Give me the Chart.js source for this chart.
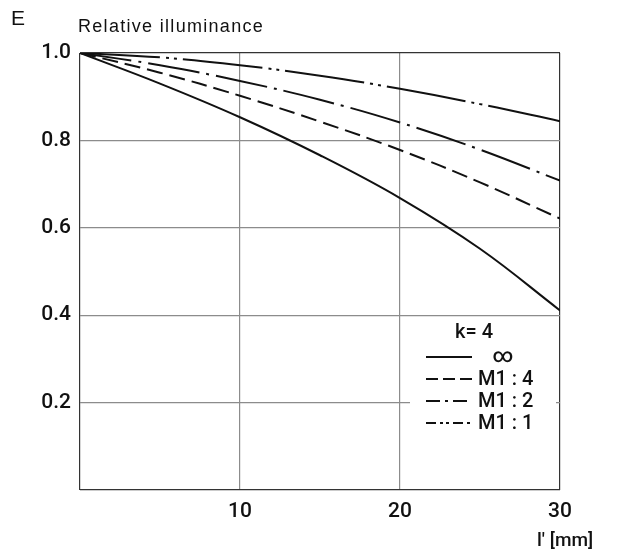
<!DOCTYPE html>
<html>
<head>
<meta charset="utf-8">
<script src="https://cdn.jsdelivr.net/npm/chart.js@4.4.0/dist/chart.umd.min.js"></script>
<style>
  html, body { margin: 0; padding: 0; background: #fff; }
  #wrap { width: 620px; height: 554px; }
</style>
</head>
<body>
<div id="wrap"><canvas id="chart" width="620" height="554"></canvas></div>
<script>
// image height l' in mm, and relative illuminance E for k = 4 at each magnification
const imageHeight = [0, 5, 10, 15, 20, 25, 30];
const atInfinity  = [1.0, 0.930, 0.853, 0.766, 0.668, 0.552, 0.411];
const atM1to4     = [1.0, 0.955, 0.902, 0.843, 0.778, 0.704, 0.621];
const atM1to2     = [1.0, 0.972, 0.936, 0.893, 0.841, 0.779, 0.708];
const atM1to1     = [1.0, 0.990, 0.972, 0.948, 0.918, 0.883, 0.844];
const seriesNames = ["\u221e", "M1 : 4", "M1 : 2", "M1 : 1"];
const yTicks = [0.2, 0.4, 0.6, 0.8, 1.0];
const xTicks = [10, 20, 30];

const INK = "#111";
const FONT = "Roboto";

function pts(ys) {
  return imageHeight.map((x, i) => ({ x: x, y: ys[i] }));
}

function series(label, ys, dash, keyDash) {
  return {
    label: label,
    data: pts(ys),
    borderColor: INK,
    borderWidth: 2,
    borderDash: dash,
    keyDash: keyDash,
    pointRadius: 0,
    tension: 0.4,
    fill: false,
  };
}

// headings, axis name and the k = 4 key box inside the plot
const decorations = {
  id: "decorations",
  afterDraw(chart) {
    const ctx = chart.ctx;
    ctx.save();
    ctx.fillStyle = INK;
    ctx.textBaseline = "middle";
    ctx.textAlign = "left";
    ctx.font = "21px 'Liberation Sans'";
    ctx.fillText("E", 11, 19);
    ctx.font = "18px 'Liberation Sans'";
    ctx.letterSpacing = "1.3px";
    ctx.fillText("Relative illuminance", 78, 27);
    ctx.letterSpacing = "0px";
    ctx.font = "500 19px " + FONT;
    ctx.fillText("l\u2032 [mm]", 537, 541);
    ctx.restore();
  },
  afterDatasetsDraw(chart) {
    const ctx = chart.ctx;
    ctx.save();
    ctx.fillStyle = "#fff";
    ctx.fillRect(410, 321, 146, 124);
    ctx.fillStyle = INK;
    ctx.font = "500 20px " + FONT;
    ctx.textBaseline = "middle";
    ctx.textAlign = "center";
    ctx.fillText("k= 4", 474, 333);
    chart.data.datasets.forEach((ds, i) => {
      const y = 357 + i * 22;
      ctx.strokeStyle = INK;
      ctx.lineWidth = 2;
      ctx.setLineDash(ds.keyDash);
      ctx.beginPath();
      ctx.moveTo(426, y);
      ctx.lineTo(472, y);
      ctx.stroke();
      ctx.setLineDash([]);
      if (i === 0) {
        ctx.textAlign = "center";
        ctx.fillText(ds.label, 503, y);
      } else {
        ctx.textAlign = "left";
        ctx.fillText(ds.label, 478, y + 1);
      }
    });
    ctx.restore();
  },
};

const gridColor = (edge) => (ctx) => {
  const v = ctx.tick ? ctx.tick.value : null;
  return v === edge[0] || v === edge[1] ? "#333" : "#8c8c8c";
};

new Chart(document.getElementById("chart"), {
  type: "line",
  data: {
    datasets: [
      series(seriesNames[0], atInfinity, [], []),
      series(seriesNames[1], atM1to4, [16, 7], [12, 5]),
      series(seriesNames[2], atM1to2, [52, 7, 3, 7], [14, 5, 3, 5]),
      series(seriesNames[3], atM1to1, [80, 6, 3, 5, 3, 6], [10, 4, 3, 3, 3, 4]),
    ],
  },
  options: {
    responsive: false,
    animation: false,
    layout: { padding: { left: 0, right: 60, top: 53, bottom: 0 } },
    plugins: { legend: { display: false }, tooltip: { enabled: false } },
    scales: {
      x: {
        type: "linear",
        min: 0,
        max: 30,
        afterFit(s) { s.height = 64; },
        afterBuildTicks(s) { s.ticks = [0].concat(xTicks).map(v => ({ value: v })); },
        border: { display: false },
        grid: { color: gridColor([0, 30]), lineWidth: 1.2, drawTicks: false },
        ticks: {
          padding: 9,
          color: INK,
          font: { family: FONT, size: 21, weight: "500" },
          callback: (v) => (v === 0 ? "" : String(v)),
        },
      },
      y: {
        min: 0,
        max: 1.0,
        afterFit(s) { s.width = 80; },
        afterBuildTicks(s) { s.ticks = [0].concat(yTicks).map(v => ({ value: v })); },
        border: { display: false },
        grid: { color: gridColor([0, 1]), lineWidth: 1.2, drawTicks: false },
        ticks: {
          padding: 9,
          color: INK,
          font: { family: FONT, size: 21, weight: "500" },
          callback: (v) => (v === 0 ? "" : v.toFixed(1)),
        },
      },
    },
  },
  plugins: [decorations],
});
</script>
</body>
</html>
